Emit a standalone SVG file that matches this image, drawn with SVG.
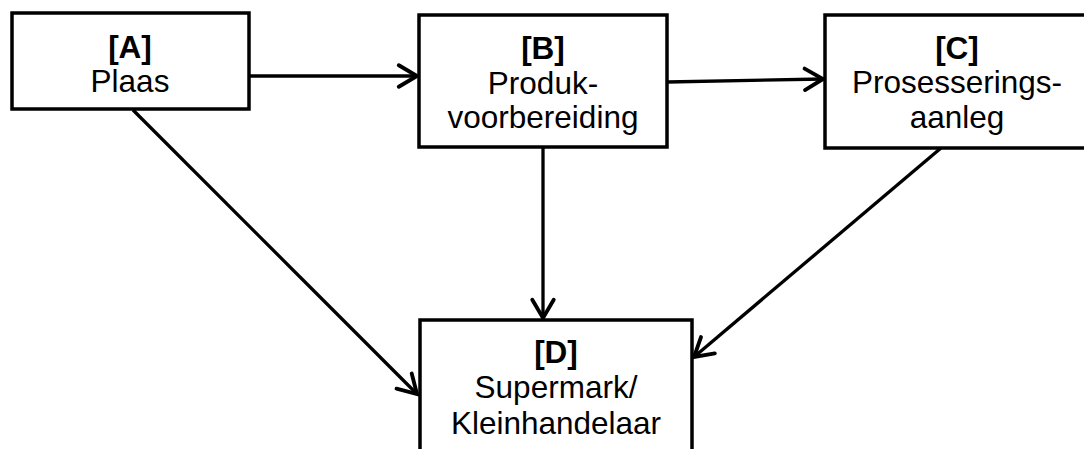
<svg xmlns="http://www.w3.org/2000/svg" width="1084" height="449" viewBox="0 0 1084 449">
  <style>
    .box { fill: #ffffff; stroke: #000000; stroke-width: 3.5; }
    .lbl { font-family: "Liberation Sans", Arial, sans-serif; font-size: 31.5px; fill: #000000; text-anchor: middle; }
    .b { font-weight: bold; }
    .conn { fill: none; stroke: #000000; stroke-width: 3.3; marker-end: url(#arr); }
  </style>
  <defs>
    <marker id="arr" markerUnits="userSpaceOnUse" markerWidth="30" markerHeight="30" viewBox="-22 -14 26 28" refX="0" refY="0" orient="auto">
      <path d="M -17 -10 L 0 0 L -17 10" fill="none" stroke="#000000" stroke-width="3.6" stroke-linecap="round" stroke-linejoin="miter"/>
    </marker>
  </defs>
  <rect width="1084" height="449" fill="#ffffff"/>
  <g id="connectors">
    <line class="conn" x1="249" y1="76" x2="417" y2="76"/>
    <line class="conn" x1="667" y1="82" x2="823" y2="79"/>
    <line class="conn" x1="133" y1="110" x2="417" y2="394"/>
    <line class="conn" x1="543" y1="147" x2="543" y2="318"/>
    <line class="conn" x1="941" y1="148" x2="694" y2="357"/>
  </g>
  <g id="nodeA">
    <rect class="box" x="12" y="13" width="237" height="96"/>
    <text class="lbl b" x="130" y="58">[A]</text>
    <text class="lbl" x="130" y="92">Plaas</text>
  </g>
  <g id="nodeB">
    <rect class="box" x="419" y="15" width="248" height="132"/>
    <text class="lbl b" x="543" y="59">[B]</text>
    <text class="lbl" x="543" y="94">Produk-</text>
    <text class="lbl" x="543" y="128">voorbereiding</text>
  </g>
  <g id="nodeC">
    <rect class="box" x="825" y="15" width="270" height="133"/>
    <text class="lbl b" x="957" y="59">[C]</text>
    <text class="lbl" x="957" y="93">Prosesserings-</text>
    <text class="lbl" x="957" y="128">aanleg</text>
  </g>
  <g id="nodeD">
    <rect class="box" x="420" y="320" width="272" height="150"/>
    <text class="lbl b" x="556" y="363">[D]</text>
    <text class="lbl" x="556" y="398">Supermark/</text>
    <text class="lbl" x="556" y="434">Kleinhandelaar</text>
  </g>
</svg>
